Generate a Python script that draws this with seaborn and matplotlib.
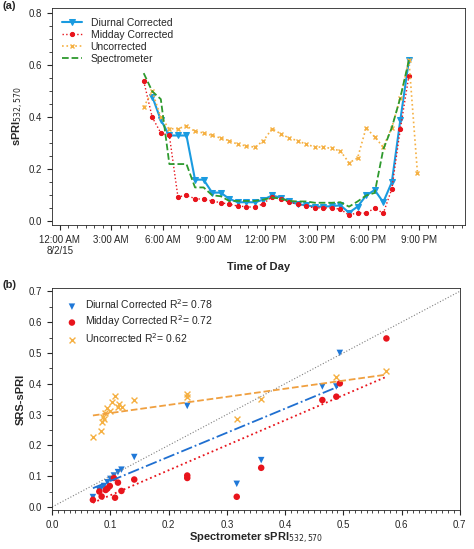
import numpy as np
import matplotlib
matplotlib.use("Agg")
import matplotlib.pyplot as plt
from matplotlib.ticker import MultipleLocator
import seaborn as sns

sns.set_style("ticks")
plt.rcParams['font.family'] = ['Liberation Sans', 'DejaVu Sans']

hours = [4.9 + 0.5 * i for i in range(33)]
nan = np.nan
diurnal = [nan, 0.48, 0.39, 0.33, 0.33, 0.33, 0.16, 0.16, 0.11, 0.11, 0.086, 0.073, 0.073, 0.073, 0.083, 0.099,
           0.091, 0.076, 0.066, 0.061, 0.056, 0.056, 0.058, 0.061, 0.033, 0.056, 0.099, 0.12, 0.073, 0.15, 0.39, 0.62, nan]
midday = [0.54, 0.40, 0.34, 0.33, 0.094, 0.099, 0.087, 0.084, 0.078, 0.071, 0.066, 0.058, 0.056, 0.053, 0.068, 0.094,
          0.084, 0.073, 0.066, 0.058, 0.051, 0.051, 0.051, 0.046, 0.023, 0.033, 0.030, 0.051, 0.030, 0.124, 0.356, 0.56, nan]
uncorr = [0.44, 0.50, 0.40, 0.356, 0.356, 0.367, 0.346, 0.34, 0.33, 0.32, 0.31, 0.296, 0.29, 0.285, 0.31, 0.356,
          0.337, 0.32, 0.31, 0.296, 0.286, 0.285, 0.28, 0.27, 0.225, 0.243, 0.36, 0.324, 0.286, 0.36, 0.476, 0.62, 0.185]
spectro = [0.57, 0.50, 0.47, 0.22, 0.22, 0.22, 0.13, 0.13, 0.10, 0.096, 0.078, 0.078, 0.078, 0.078, 0.083, 0.091,
           0.087, 0.078, 0.076, 0.076, 0.071, 0.071, 0.071, 0.073, 0.056, 0.076, 0.099, 0.109, 0.276, 0.36, 0.476, 0.62, nan]
xtick_labels = ["12:00 AM\n8/2/15", "3:00 AM", "6:00 AM", "9:00 AM", "12:00 PM", "3:00 PM", "6:00 PM", "9:00 PM"]

d_x = [0.070, 0.081, 0.084, 0.089, 0.095, 0.100, 0.106, 0.113, 0.119, 0.141, 0.232, 0.317, 0.359, 0.464, 0.488, 0.494]
d_y = [0.032, 0.055, 0.060, 0.068, 0.080, 0.091, 0.102, 0.113, 0.121, 0.162, 0.328, 0.075, 0.152, 0.391, 0.391, 0.500]
m_x = [0.070, 0.081, 0.085, 0.092, 0.095, 0.099, 0.106, 0.108, 0.113, 0.119, 0.141, 0.232, 0.232, 0.317, 0.359, 0.464, 0.488, 0.494, 0.574]
m_y = [0.023, 0.050, 0.034, 0.055, 0.060, 0.068, 0.094, 0.030, 0.079, 0.052, 0.089, 0.102, 0.094, 0.033, 0.127, 0.347, 0.358, 0.401, 0.547]
u_x = [0.070, 0.084, 0.085, 0.088, 0.089, 0.091, 0.095, 0.099, 0.103, 0.108, 0.113, 0.114, 0.120, 0.141, 0.232, 0.232, 0.317, 0.359, 0.488, 0.574]
u_y = [0.227, 0.245, 0.276, 0.292, 0.287, 0.305, 0.322, 0.313, 0.340, 0.360, 0.324, 0.335, 0.326, 0.347, 0.366, 0.356, 0.284, 0.352, 0.421, 0.440]

blue, red, orange, green = "#1a9be0", "#e8141c", "#f5b042", "#2e9a2e"

fig = plt.figure(figsize=(4.74, 5.49), dpi=100)
ax1 = fig.add_axes([0.11, 0.59, 0.87, 0.395])
ax2 = fig.add_axes([0.11, 0.071, 0.86, 0.404])

sns.lineplot(x=hours, y=diurnal, ax=ax1, color=blue, lw=1.5, marker="v", ms=5, mec=blue, label="Diurnal Corrected")
sns.lineplot(x=hours, y=midday, ax=ax1, color=red, lw=1, ls=":", marker="o", ms=3, mec=red, label="Midday Corrected")
ax1.plot(hours, uncorr, color=orange, lw=1.2, ls=":", marker="x", ms=3, mec=orange, label="Uncorrected")
sns.lineplot(x=hours, y=spectro, ax=ax1, color=green, lw=1.3, ls="--", label="Spectrometer")
ax1.set_xlim(-0.45, 23.65)
ax1.set_ylim(-0.015, 0.82)
ax1.set_xticks(np.arange(0, 22, 3))
ax1.set_xticklabels(xtick_labels, fontsize=7)
ax1.xaxis.set_minor_locator(MultipleLocator(0.5))
ax1.set_yticks([0.0, 0.2, 0.4, 0.6, 0.8])
ax1.yaxis.set_minor_locator(MultipleLocator(0.05))
ax1.tick_params(axis="y", labelsize=7)
ax1.set_xlabel("Time of Day", fontsize=8, fontweight="bold")
ax1.set_ylabel("sPRI$_{532,570}$", fontsize=8, fontweight="bold", labelpad=2)
ax1.legend(loc="upper left", frameon=False, fontsize=7.5, handlelength=2, labelspacing=0.2)

ax2.plot([0, 0.7], [0, 0.7], color="grey", ls=":", lw=0.8)
for xs, ys, c, ls in [(u_x, u_y, "#f0a040", "--"), (d_x, d_y, "#1f6fd0", "-."), (m_x, m_y, red, ":")]:
    k, b = np.polyfit(xs, ys, 1)
    xx = np.array([min(xs), max(xs)])
    ax2.plot(xx, k * xx + b, color=c, ls=ls, lw=1.3)
sns.scatterplot(x=d_x, y=d_y, ax=ax2, color="#1f78d8", marker="v", s=22, edgecolor="none", label="Diurnal Corrected R$^2$= 0.78")
sns.scatterplot(x=m_x, y=m_y, ax=ax2, color=red, marker="o", s=22, edgecolor="none", label="Midday Corrected R$^2$= 0.72")
sns.scatterplot(x=u_x, y=u_y, ax=ax2, color=orange, marker="x", s=18, linewidth=1, label="Uncorrected R$^2$= 0.62")
ax2.set_xlim(0, 0.7)
ax2.set_ylim(-0.01, 0.71)
ax2.xaxis.set_major_locator(MultipleLocator(0.1))
ax2.xaxis.set_minor_locator(MultipleLocator(0.01))
ax2.yaxis.set_major_locator(MultipleLocator(0.1))
ax2.yaxis.set_minor_locator(MultipleLocator(0.05))
ax2.tick_params(labelsize=7)
ax2.set_xlabel("Spectrometer sPRI$_{532,570}$", fontsize=8, fontweight="bold", labelpad=1)
ax2.set_ylabel("SRS-sPRI", fontsize=8, fontweight="bold", labelpad=2)
ax2.legend(loc="upper left", frameon=False, fontsize=7.5, labelspacing=0.2, handletextpad=0.3)

for ax in (ax1, ax2):
    for s in ax.spines.values():
        s.set_linewidth(0.6)
fig.text(0.005, 0.998, "(a)", fontsize=8, fontweight="bold", va="top")
fig.text(0.005, 0.49, "(b)", fontsize=8, fontweight="bold", va="top")
fig.savefig("out.png", dpi=100)
